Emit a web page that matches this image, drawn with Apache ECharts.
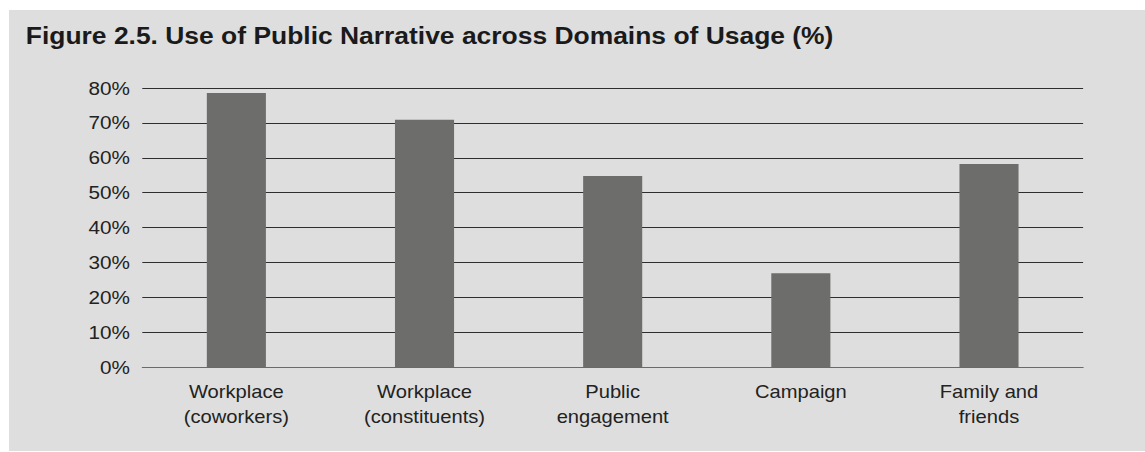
<!DOCTYPE html>
<html>
<head>
<meta charset="utf-8">
<script src="https://cdn.jsdelivr.net/npm/echarts@6/dist/echarts.min.js"></script>
<style>
  html, body { margin: 0; padding: 0; background: #ffffff; }
  #frame {
    position: absolute; left: 9px; top: 10px;
    width: 1136px; height: 441px; background: #dedede; overflow: hidden;
  }
  /* chart is drawn in a narrower box and widened to the frame */
  #chart {
    position: absolute; left: 0; top: 0;
    width: 1014px; height: 441px;
    transform: scaleX(1.12); transform-origin: 0 0;
  }
</style>
</head>
<body>
<div id="frame"><div id="chart"></div></div>
<script>
const titleText = 'Figure 2.5. Use of Public Narrative across Domains of Usage (%)';
const categories = [
  'Workplace\n(coworkers)',
  'Workplace\n(constituents)',
  'Public\nengagement',
  'Campaign',
  'Family and\nfriends'
];
const usageShare = [78.6, 70.9, 54.8, 26.9, 58.2];
const yTicks = [0, 10, 20, 30, 40, 50, 60, 70, 80];

const chart = echarts.init(document.getElementById('chart'), null, { renderer: 'svg' });
chart.setOption({
  backgroundColor: 'transparent',
  animation: false,
  textStyle: { fontFamily: '"Liberation Sans", Arial, sans-serif', color: '#222' },
  title: {
    text: titleText,
    left: 10,
    top: 9,
    textStyle: {
      fontFamily: '"Liberation Sans", Arial, sans-serif',
      fontSize: 23.6, fontWeight: 'bold', color: '#1a1a1a'
    }
  },
  grid: { left: 119, right: 55, top: 78, bottom: 84, containLabel: false },
  xAxis: {
    type: 'category',
    data: categories,
    axisLine: { show: true, lineStyle: { color: '#6a6a6a', width: 1 } },
    axisTick: { show: false },
    axisLabel: {
      fontSize: 18, lineHeight: 25, margin: 12, color: '#222',
      interval: 0, align: 'center'
    }
  },
  yAxis: {
    type: 'value',
    min: yTicks[0],
    max: yTicks[yTicks.length - 1],
    interval: 10,
    axisLine: { show: false },
    axisTick: { show: false },
    axisLabel: {
      fontSize: 18.5, color: '#222', margin: 11,
      formatter: v => v + '%'
    },
    splitLine: { lineStyle: { color: '#2e2e2e', width: 1 } }
  },
  series: [{
    type: 'bar',
    data: usageShare,
    barWidth: '31.4%',
    itemStyle: { color: '#6d6d6b' }
  }]
});
</script>
</body>
</html>
